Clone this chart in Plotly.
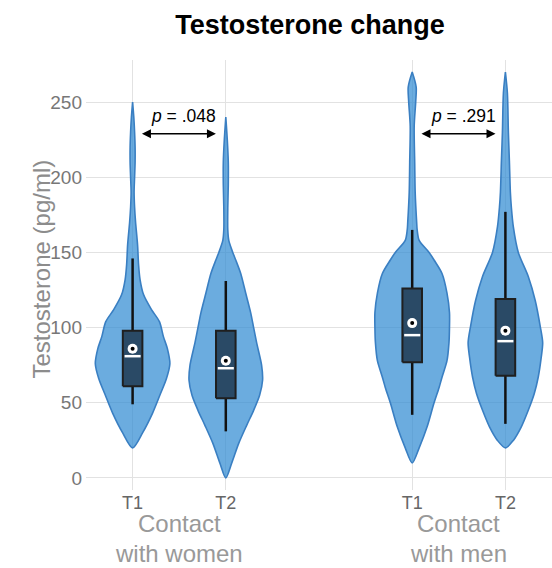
import plotly.graph_objects as go

# ---------------- data ----------------
positions = [0, 1, 3, 4]
tick_labels = ["T1", "T2", "T1", "T2"]
group_line1 = ["Contact", "Contact"]
group_line2 = ["with women", "with men"]
group_centers = [0.5, 3.5]

# violin outlines: value levels and relative half-width (px at max ~37.5)
wt1_v = [20, 30, 43, 56, 66, 76, 86, 94, 104, 112, 122, 132, 142, 155, 170, 180, 190, 200, 210, 220, 230, 240, 250]
wt1_w = [0, 10, 20, 28, 34, 37.5, 35, 31, 27, 19, 11, 7.5, 6, 5, 3, 2, 1.5, 2, 2.5, 2.5, 2, 1.2, 0]

wt2_v = [0, 10, 23, 35, 45, 55, 65, 75, 90, 100, 110, 123, 136, 145, 150, 158, 165, 180, 195, 210, 225, 240]
wt2_w = [0, 6, 13, 21, 28, 34, 37, 36, 31, 28, 25, 20, 15, 10, 7, 3, 2, 2, 2.5, 2.5, 1.5, 0]

mt1_v = [10, 20, 34, 50, 60, 67, 78, 90, 100, 110, 123, 136, 145, 150, 158, 165, 170, 190, 210, 234, 250, 260, 270]
mt1_w = [0, 7, 15, 22, 27, 30, 35, 37, 37.5, 37.5, 35, 30, 22, 17, 7, 5, 4.5, 3, 2.5, 2, 3.5, 4, 0]

mt2_v = [20, 25, 34, 45, 56, 67, 80, 90, 101, 118, 134, 150, 167, 180, 190, 211, 230, 256, 270]
mt2_w = [0, 8, 16, 23, 29, 33, 36, 37.5, 35, 30, 23, 13, 8, 6, 5, 4, 3, 2, 0]

violin_levels = [wt1_v, wt2_v, mt1_v, mt2_v]
violin_widths = [wt1_w, wt2_w, mt1_w, mt2_w]

# box statistics
q1 = [61, 53, 77, 68]
median = [81, 73, 95, 91]
q3 = [98, 98, 126, 119]
lower = [49, 31, 42, 36]
upper = [146, 131, 165, 177]
mean = [86, 78, 103, 98]

p_texts = ["<i>p</i> = .048", "<i>p</i> = .291"]
p_pairs = [(0, 1), (3, 4)]
p_y = 229

# ---------------- figure ----------------
W_SCALE = 0.40 / 37.5
BOX_HW = 0.105
fill_col = "rgba(50,140,210,0.72)"
edge_col = "#3a7fc2"

fig = go.Figure()

for pos, vs, ws in zip(positions, violin_levels, violin_widths):
    xs = [pos + w * W_SCALE for w in ws] + [pos - w * W_SCALE for w in reversed(ws)]
    ys = list(vs) + list(reversed(vs))
    fig.add_trace(go.Scatter(x=xs, y=ys, mode="lines", fill="toself", fillcolor=fill_col,
                             line=dict(color=edge_col, width=1.6, shape="spline", smoothing=0.8),
                             hoverinfo="skip", showlegend=False))

# whiskers
for pos, lo, a, b, hi in zip(positions, lower, q1, q3, upper):
    fig.add_trace(go.Scatter(x=[pos, pos, None, pos, pos], y=[lo, a, None, b, hi], mode="lines",
                             line=dict(color="#111111", width=2.5), hoverinfo="skip", showlegend=False))

# boxes
for pos, a, b in zip(positions, q1, q3):
    fig.add_trace(go.Scatter(x=[pos - BOX_HW, pos + BOX_HW, pos + BOX_HW, pos - BOX_HW, pos - BOX_HW],
                             y=[a, a, b, b, a], mode="lines", fill="toself", fillcolor="#2a4a66",
                             line=dict(color="#1f1f1f", width=2), hoverinfo="skip", showlegend=False))

for pos, med in zip(positions, median):
    fig.add_trace(go.Scatter(x=[pos - BOX_HW * 0.82, pos + BOX_HW * 0.82], y=[med, med], mode="lines",
                             line=dict(color="white", width=2.5), hoverinfo="skip", showlegend=False))

fig.add_trace(go.Scatter(x=positions, y=mean, mode="markers",
                         marker=dict(color="white", size=10, line=dict(width=0)),
                         hoverinfo="skip", showlegend=False))
fig.add_trace(go.Scatter(x=positions, y=mean, mode="markers",
                         marker=dict(color="black", size=4, line=dict(width=0)),
                         hoverinfo="skip", showlegend=False))

for (a, b), txt in zip(p_pairs, p_texts):
    fig.add_annotation(x=a + 0.1, y=p_y, ax=b - 0.09, ay=p_y, xref="x", yref="y", axref="x", ayref="y",
                       text="", showarrow=True, arrowhead=2, arrowside="end+start", arrowsize=1.2,
                       arrowwidth=1.5, arrowcolor="black")
    fig.add_annotation(x=(a + b) / 2 + 0.05, y=p_y + 12, xref="x", yref="y", text=txt, showarrow=False,
                       font=dict(size=17.5, color="black"), yanchor="middle")

PLOT_TOP, PLOT_BOT = 60, 490
def py(pix):
    return (PLOT_BOT - pix) / (PLOT_BOT - PLOT_TOP)

for gc, l1, l2 in zip(group_centers, group_line1, group_line2):
    fig.add_annotation(x=gc, y=py(523), xref="x", yref="paper", text=l1, showarrow=False,
                       yanchor="middle", font=dict(size=24, color="#999999"))
    fig.add_annotation(x=gc, y=py(553), xref="x", yref="paper", text=l2, showarrow=False,
                       yanchor="middle", font=dict(size=24, color="#999999"))

fig.add_annotation(x=(25 - 86) / 466, y=py(269), xref="paper", yref="paper", text="Testosterone (pg/ml)",
                   showarrow=False, textangle=-90, font=dict(size=24, color="#8c8c8c"))

fig.update_layout(
    width=552, height=568,
    margin=dict(l=86, r=0, t=PLOT_TOP, b=568 - PLOT_BOT),
    paper_bgcolor="white", plot_bgcolor="white",
    font=dict(family="Liberation Sans, Arial, sans-serif"),
    title=dict(text="<b>Testosterone change</b>", x=310 / 552, xref="container", xanchor="center",
               y=1 - 25 / 568, yref="container", yanchor="middle",
               font=dict(size=27, color="black")),
    xaxis=dict(range=[-0.5, 4.5], tickvals=positions, ticktext=tick_labels, showgrid=True,
               gridcolor="#e2e2e2", zeroline=False, showline=False, ticks="",
               tickfont=dict(size=18, color="#666666"), fixedrange=True),
    yaxis=dict(range=[-8, 278], tickvals=[0, 50, 100, 150, 200, 250], showgrid=True,
               gridcolor="#e2e2e2", zeroline=False, showline=False, ticks="",
               ticklabelstandoff=3,
               tickfont=dict(size=19, color="#777777"), fixedrange=True),
)

fig.write_html("out.html", post_script="document.body.style.margin='0';",
               config={"displayModeBar": False})
